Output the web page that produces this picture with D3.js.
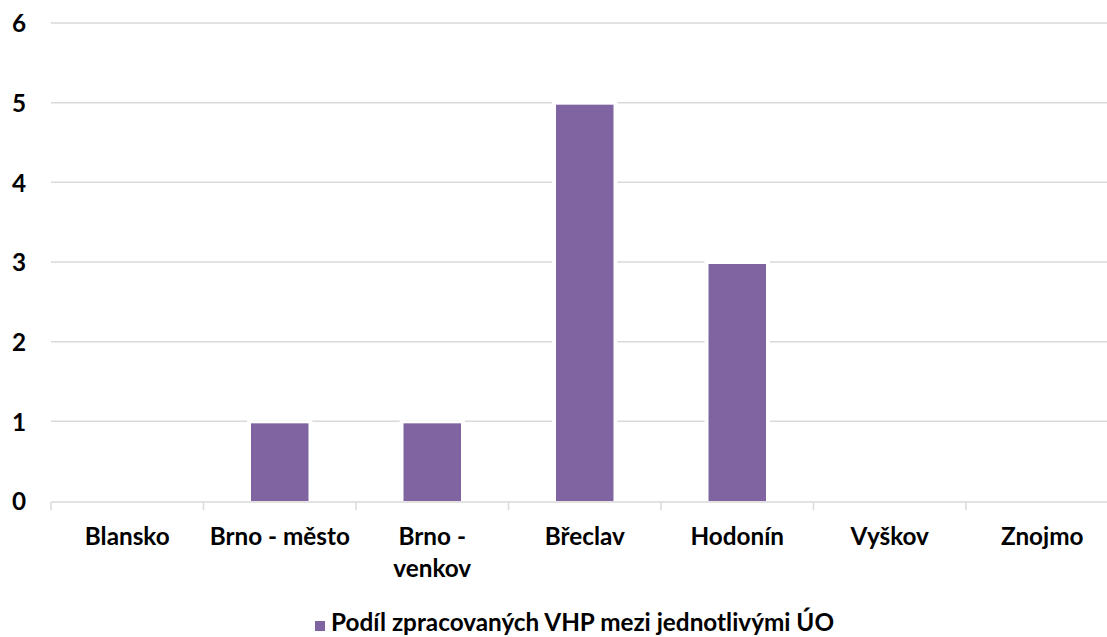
<!DOCTYPE html>
<html><head><meta charset="utf-8">
<script src="https://cdn.jsdelivr.net/npm/d3@7"></script>
<style>
html,body{margin:0;padding:0;background:#fff;overflow:hidden}
text{font-family:Lato,"Open Sans",sans-serif;font-weight:700;fill:#000}
</style></head>
<body>
<svg id="c" width="1107" height="637"></svg>
<script>
const categories = ["Blansko","Brno - město","Brno - venkov","Břeclav","Hodonín","Vyškov","Znojmo"];
const values = [0,1,1,5,3,0,0];
const yTicks = [0,1,2,3,4,5,6];
const seriesName = "Podíl zpracovaných VHP mezi jednotlivými ÚO";
const color = "#8064A2";

const svg = d3.select("#c");
const FS = 24.3;
const x = d3.scaleBand().domain(categories).range([51, 1118.5]).paddingInner(0.623).paddingOuter(0.3115);
const y = d3.scaleLinear().domain([0,6]).range([501, 23]);

// gridlines
svg.append("g").selectAll("line").data(yTicks.filter(d=>d>0)).join("line")
  .attr("x1",51).attr("x2",1118.5).attr("y1",d=>y(d)).attr("y2",d=>y(d))
  .attr("stroke","#D9D9D9").attr("stroke-width",1.5);

// y labels
const ya = svg.append("g").attr("transform","translate(26,0)")
  .call(d3.axisLeft(y).tickValues(yTicks).tickSize(0).tickPadding(0).tickFormat(d3.format("d")));
ya.select(".domain").remove();
ya.selectAll("text").attr("font-size",FS).attr("text-anchor","end").attr("dy","0.36em").style("font-family","Lato").style("font-weight",700);

// bars
const step = x.step();
const bars = svg.append("g");
bars.selectAll("rect.bg").data(values).join("rect").attr("class","bg")
  .attr("x",(d,i)=>x(categories[i])-4).attr("width",x.bandwidth()+8)
  .attr("y",d=>y(d)-1).attr("height",d=>d>0?y(0)-y(d)+1:0).attr("fill","#fff");
bars.selectAll("rect.bar").data(values).join("rect").attr("class","bar")
  .attr("x",(d,i)=>x(categories[i])).attr("width",x.bandwidth())
  .attr("y",d=>y(d)+2).attr("height",d=>d>0?y(0)-y(d)-2:0).attr("fill",color);

// x axis
const xa = svg.append("g").attr("transform",`translate(0,${y(0)+1})`)
  .call(d3.axisBottom(x).tickSize(0).tickPadding(0));
xa.select(".domain").remove();
svg.append("line").attr("x1",51).attr("x2",1118.5).attr("y1",y(0)+1).attr("y2",y(0)+1)
  .attr("stroke","#D9D9D9").attr("stroke-width",1.5);
const bounds = categories.map(c=>x(c)-x.step()*x.paddingInner()/2);
bounds.push(bounds[bounds.length-1]+step);
svg.append("g").selectAll("line").data(bounds).join("line")
  .attr("x1",d=>d).attr("x2",d=>d).attr("y1",y(0)+1).attr("y2",y(0)+9)
  .attr("stroke","#D9D9D9").attr("stroke-width",1.5);

xa.selectAll("text").attr("font-size",FS).style("font-family","Lato").style("font-weight",700)
  .attr("dy",null).attr("y",43)
  .each(function(){
    const t = d3.select(this);
    const full = t.text();
    if (this.getComputedTextLength() > step*0.96) {
      const words = full.split(" ");
      const l1 = words.slice(0,-1).join(" "), l2 = words[words.length-1];
      t.text(null);
      t.append("tspan").attr("x",0).attr("y",43).text(l1);
      t.append("tspan").attr("x",0).attr("y",75).text(l2);
    }
  });

// legend
const lg = svg.append("g");
lg.append("rect").attr("x",315).attr("y",621).attr("width",10).attr("height",10).attr("fill",color);
lg.append("text").attr("x",331).attr("y",631).attr("font-size",FS).text(seriesName);
</script>
</body></html>
